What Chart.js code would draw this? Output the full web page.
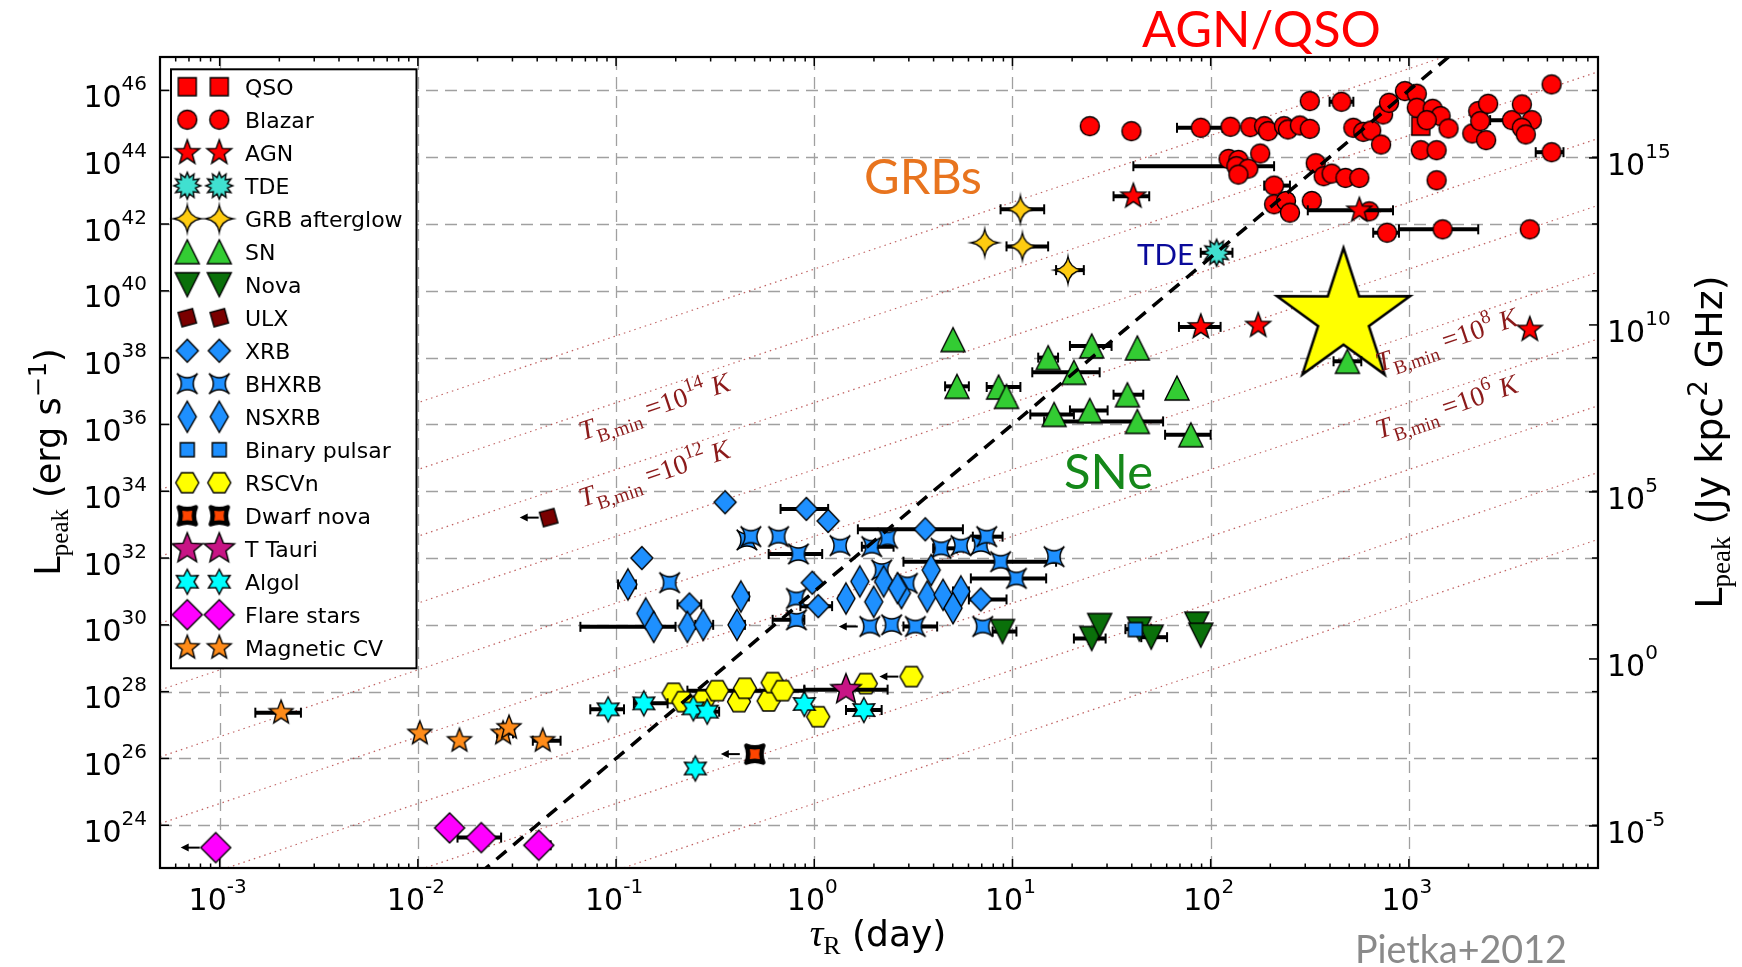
<!DOCTYPE html>
<html>
<head>
<meta charset="utf-8">
<title>Peak luminosity vs rise time</title>
<script src="https://cdn.jsdelivr.net/npm/chart.js@4.4.1/dist/chart.umd.min.js"></script>
<style>
  html, body { margin: 0; padding: 0; background: #fff; }
  canvas { display: block; }
</style>
</head>
<body>
<canvas id="lumChart" width="1742" height="967"></canvas>
<script>
// values are log10: tau_R in days, L_peak in erg/s
// error bars: [point index, log tau low, log tau high]; limits: points with an upper limit on tau

const qsoLogTau = [3.06];
const qsoLogL = [44.93];

const blazarLogTau = [1.39, 1.60, 1.95, 2.10, 2.20, 2.27, 2.29, 2.37, 2.39, 2.45, 2.50, 2.50, 2.66, 2.72, 2.77, 2.81,
  2.86, 2.87, 2.90, 2.98, 3.04, 3.04, 3.12, 3.16, 3.09, 3.20, 3.06, 3.14, 3.14, 3.32, 3.35, 3.36, 3.39, 3.40, 3.52,
  3.57, 3.62, 3.57, 3.59, 3.72, 3.72, 3.61, 2.09, 2.14, 2.13, 2.19, 2.14, 2.25, 2.32, 2.32, 2.38, 2.40, 2.51, 2.53,
  2.57, 2.61, 2.68, 2.75, 2.80, 2.89, 3.17];
const blazarLogL = [44.93, 44.78, 44.88, 44.91, 44.90, 44.93, 44.78, 44.93, 44.83, 44.95, 44.85, 45.68, 45.66, 44.88,
  44.76, 44.80, 44.38, 45.28, 45.63, 45.98, 45.90, 45.48, 45.45, 45.23, 45.11, 44.86, 44.21, 44.21, 43.31, 44.71,
  45.38, 45.08, 44.51, 45.60, 45.11, 45.58, 45.11, 44.88, 44.68, 46.18, 44.15, 41.84, 43.95, 43.92, 43.73, 43.66,
  43.48, 44.11, 43.15, 42.59, 42.69, 42.34, 42.69, 43.82, 43.43, 43.51, 43.38, 43.38, 42.38, 41.74, 41.84];
const blazarErr = [[2, 1.83, 2.06], [12, 2.60, 2.72], [34, 3.41, 3.64], [40, 3.64, 3.78], [44, 1.61, 2.32],
  [48, 2.27, 2.40], [53, 2.49, 2.56], [59, 2.82, 2.95], [60, 2.95, 3.35]];

const agnLogTau = [1.61, 2.75, 1.95, 2.24, 3.61];
const agnLogL = [42.83, 42.41, 38.92, 38.96, 38.84];
const agnErr = [[0, 1.51, 1.69], [1, 2.49, 2.92], [2, 1.84, 2.05]];

const tdeLogTau = [2.03];
const tdeLogL = [41.14];
const tdeErr = [[0, 1.95, 2.11]];

const grbLogTau = [1.04, 0.86, 1.05, 1.28];
const grbLogL = [42.44, 41.44, 41.33, 40.62];
const grbErr = [[0, 0.94, 1.16], [2, 0.97, 1.18], [3, 1.22, 1.36]];

const snLogTau = [0.70, 0.72, 0.93, 0.97, 1.18, 1.21, 1.31, 1.40, 1.39, 1.58, 1.63, 1.63, 1.83, 1.90, 2.69];
const snLogL = [38.54, 37.14, 37.12, 36.84, 38.00, 36.30, 37.56, 38.35, 36.42, 36.89, 36.09, 38.29, 37.09, 35.69, 37.89];
const snErr = [[1, 0.66, 0.78], [2, 0.87, 1.04], [4, 1.13, 1.23], [5, 1.09, 1.31], [6, 1.10, 1.44], [7, 1.29, 1.50],
  [8, 1.29, 1.48], [9, 1.51, 1.66], [10, 1.16, 1.76], [13, 1.77, 2.00], [14, 2.62, 2.76]];

const novaLogTau = [0.95, 1.40, 1.44, 1.64, 1.70, 1.93, 1.95];
const novaLogL = [29.80, 29.59, 29.98, 29.87, 29.63, 30.02, 29.69];
const novaErr = [[0, 0.90, 1.02], [1, 1.31, 1.47], [3, 1.57, 1.70], [4, 1.65, 1.78]];

const ulxLogTau = [-1.34];
const ulxLogL = [33.21];
const ulxLimits = [0];

const xrbLogTau = [-0.45, -0.04, 0.07, 0.56, -0.87, -0.63, -0.01, 0.02, 0.84];
const xrbLogL = [33.67, 33.47, 33.11, 32.86, 32.00, 30.61, 31.26, 30.56, 30.76];
const xrbErr = [[1, -0.17, 0.07], [3, 0.22, 0.75], [5, -0.69, -0.57], [7, -0.07, 0.09], [8, 0.78, 0.97]];

const bhxrbLogTau = [-0.34, -0.32, -0.18, -0.08, 0.13, 0.29, 0.37, 0.64, 0.74, 0.84, 0.87, 0.94, 1.21, 1.02, -0.73,
  -0.09, -0.09, 0.28, 0.39, 0.51, 0.85, 0.34, 0.47];
const bhxrbLogL = [32.54, 32.64, 32.64, 32.12, 32.37, 32.34, 32.59, 32.29, 32.37, 32.39, 32.64, 31.89, 32.04, 31.39,
  31.26, 30.79, 30.15, 29.95, 30.00, 29.95, 29.95, 31.64, 31.24];
const bhxrbErr = [[3, -0.23, 0.04], [5, 0.24, 0.40], [7, 0.60, 0.72], [10, 0.80, 0.95], [11, 0.45, 1.22],
  [13, 0.79, 1.17], [16, -0.21, -0.05], [19, 0.45, 0.62]];
const bhxrbLimits = [17];

const nsxrbLogTau = [-0.94, -0.85, -0.81, -0.64, -0.56, -0.37, -0.39, 0.23, 0.35, 0.44, 0.57, 0.59, 0.65, 0.74, 0.70,
  0.16, 0.30, 0.42];
const nsxrbLogL = [31.21, 30.34, 29.94, 29.94, 30.00, 30.85, 30.00, 31.30, 31.30, 30.95, 30.85, 31.64, 30.90, 31.00,
  30.50, 30.79, 30.69, 31.10];
const nsxrbErr = [[0, -0.99, -0.90], [2, -1.18, -0.70], [4, -0.60, -0.51], [5, -0.40, -0.33], [6, -0.42, -0.35],
  [13, 0.70, 0.78]];

const pulsarLogTau = [1.62];
const pulsarLogL = [29.86];

const rscvnLogTau = [-0.71, -0.66, -0.56, -0.49, -0.38, -0.35, -0.23, -0.21, -0.16, 0.02, 0.26, 0.49];
const rscvnLogL = [27.95, 27.70, 27.73, 28.03, 27.70, 28.10, 27.72, 28.27, 28.03, 27.25, 28.24, 28.45];
const rscvnErr = [[3, -0.64, -0.05]];
const rscvnLimits = [11];

const dwarfNovaLogTau = [-0.30];
const dwarfNovaLogL = [26.13];
const dwarfNovaLimits = [0];

const tTauriLogTau = [0.16];
const tTauriLogL = [28.06];
const tTauriErr = [[0, -0.05, 0.37]];

const algolLogTau = [-1.04, -0.86, -0.61, -0.54, -0.05, 0.25, -0.60];
const algolLogL = [27.47, 27.65, 27.50, 27.40, 27.63, 27.45, 25.70];
const algolErr = [[0, -1.13, -0.96], [1, -0.91, -0.74], [3, -0.60, -0.48], [5, 0.16, 0.34]];

const flareLogTau = [-3.02, -1.84, -1.68, -1.39];
const flareLogL = [23.33, 23.92, 23.63, 23.40];
const flareErr = [[2, -1.80, -1.58], [3, -1.43, -1.33]];
const flareLimits = [0];

const mcvLogTau = [-2.69, -1.99, -1.79, -1.57, -1.54, -1.37];
const mcvLogL = [27.37, 26.75, 26.53, 26.75, 26.92, 26.53];
const mcvErr = [[0, -2.82, -2.59], [3, -1.60, -1.52], [5, -1.42, -1.28]];

// the source marked by the large star
const highlightLogTau = [2.67];
const highlightLogL = [39.19];

// axes
const X_MIN = 5e-4, X_MAX = 9e3;
const Y_MIN = 10 ** 22.72, Y_MAX = 1e47;
const JY_KPC2_GHZ = 9.52e28;           // erg/s in one Jy kpc^2 GHz
const xTickExps = [-3, -2, -1, 0, 1, 2, 3];
const yTickExps = [24, 26, 28, 30, 32, 34, 36, 38, 40, 42, 44, 46];
const y2TickExps = [-5, 0, 5, 10, 15];

// minimum brightness temperature: log L = log T_B + 2 log tau + 24.65
const tbExps = [0, 2, 4, 6, 8, 10, 12, 14, 16];
const tbOffset = 24.65;
// dashed relation: log L = 5 log tau + 31
const relSlope = 5, relIntercept = 31.0;

// ---- markers ----
function marker(path, fill, opts = {}) {
  const lw = opts.lw || 1.4, ext = opts.ext || 14;
  const size = 2 * Math.ceil(ext + lw + 2);
  const c = document.createElement('canvas');
  c.width = size; c.height = size;
  const g = c.getContext('2d');
  g.translate(size / 2, size / 2);
  if (opts.rot) g.rotate(opts.rot);
  g.beginPath(); path(g); g.closePath();
  g.fillStyle = fill; g.fill();
  g.lineWidth = lw; g.strokeStyle = '#000'; g.lineJoin = opts.join || 'miter'; g.stroke();
  return c;
}
const star = (R, r, n) => g => {
  for (let k = 0; k < 2 * n; k++) {
    const d = k % 2 ? r : R, a = -Math.PI / 2 + k * Math.PI / n;
    g.lineTo(d * Math.cos(a), d * Math.sin(a));
  }
};
const poly = (R, n, a0) => g => {
  for (let k = 0; k < n; k++) {
    const a = a0 + k * 2 * Math.PI / n;
    g.lineTo(R * Math.cos(a), R * Math.sin(a));
  }
};
// four tips joined by inward-bowed curves
const pinch = (R, k, a0) => g => {
  for (let i = 0; i < 4; i++) {
    const a = a0 + i * Math.PI / 2, b = a + Math.PI / 2, m = a + Math.PI / 4;
    if (i === 0) g.moveTo(R * Math.cos(a), R * Math.sin(a));
    g.quadraticCurveTo(k * R * Math.cos(m), k * R * Math.sin(m), R * Math.cos(b), R * Math.sin(b));
  }
};
const diamond = (w, h) => g => { g.moveTo(0, -h); g.lineTo(w, 0); g.lineTo(0, h); g.lineTo(-w, 0); };
const tri = (s, dir) => g => { g.moveTo(0, -dir * s); g.lineTo(s, dir * s); g.lineTo(-s, dir * s); };
const box = s => g => g.rect(-s, -s, 2 * s, 2 * s);
const disc = r => g => g.arc(0, 0, r, 0, 2 * Math.PI);

const M = {
  qso: marker(box(9), '#ff0000', { ext: 10 }),
  blazar: marker(disc(9.5), '#ff0000', { ext: 10 }),
  agn: marker(star(13, 5.4, 5), '#ff0000'),
  tde: marker(star(13.5, 8.5, 12), '#40e0d0'),
  grb: marker(pinch(13.5, 0.2, -Math.PI / 2), '#ffcc11'),
  sn: marker(tri(12, 1), '#33cc33'),
  nova: marker(tri(12, -1), '#0a700a'),
  ulx: marker(box(7.5), '#7a0000', { rot: -0.27 }),
  xrb: marker(diamond(11, 11.5), '#1e90ff'),
  bhxrb: marker(pinch(14.5, 0.12, -Math.PI / 4), '#1e90ff'),
  nsxrb: marker(diamond(9, 15.5), '#1e90ff', { ext: 16 }),
  pulsar: marker(box(7), '#1e90ff'),
  rscvn: marker(poly(11.5, 6, 0), '#ffff00'),
  dwarf: marker(pinch(12, 0.4, -Math.PI / 4), '#ff4500', { lw: 4.5, join: 'round' }),
  ttauri: marker(star(16, 7, 5), '#c71585', { ext: 17 }),
  algol: marker(star(12.5, 6.8, 6), '#00ffff'),
  flare: marker(diamond(15, 15), '#ff00ff', { ext: 16 }),
  mcv: marker(star(12.5, 5.4, 5), '#ff8c1a'),
  highlight: marker(star(70, 26.7, 5), '#ffff00', { lw: 2.5, ext: 71 })
};

const categories = [
  { label: 'QSO', tau: qsoLogTau, lum: qsoLogL, mk: M.qso },
  { label: 'Blazar', tau: blazarLogTau, lum: blazarLogL, err: blazarErr, mk: M.blazar },
  { label: 'AGN', tau: agnLogTau, lum: agnLogL, err: agnErr, mk: M.agn },
  { label: 'TDE', tau: tdeLogTau, lum: tdeLogL, err: tdeErr, mk: M.tde },
  { label: 'GRB afterglow', tau: grbLogTau, lum: grbLogL, err: grbErr, mk: M.grb },
  { label: 'SN', tau: snLogTau, lum: snLogL, err: snErr, mk: M.sn },
  { label: 'Nova', tau: novaLogTau, lum: novaLogL, err: novaErr, mk: M.nova },
  { label: 'ULX', tau: ulxLogTau, lum: ulxLogL, lim: ulxLimits, half: 9, mk: M.ulx },
  { label: 'XRB', tau: xrbLogTau, lum: xrbLogL, err: xrbErr, mk: M.xrb },
  { label: 'BHXRB', tau: bhxrbLogTau, lum: bhxrbLogL, err: bhxrbErr, lim: bhxrbLimits, half: 11, mk: M.bhxrb },
  { label: 'NSXRB', tau: nsxrbLogTau, lum: nsxrbLogL, err: nsxrbErr, mk: M.nsxrb },
  { label: 'Binary pulsar', tau: pulsarLogTau, lum: pulsarLogL, mk: M.pulsar },
  { label: 'RSCVn', tau: rscvnLogTau, lum: rscvnLogL, err: rscvnErr, lim: rscvnLimits, half: 12, mk: M.rscvn },
  { label: 'Dwarf nova', tau: dwarfNovaLogTau, lum: dwarfNovaLogL, lim: dwarfNovaLimits, half: 14, mk: M.dwarf },
  { label: 'T Tauri', tau: tTauriLogTau, lum: tTauriLogL, err: tTauriErr, mk: M.ttauri },
  { label: 'Algol', tau: algolLogTau, lum: algolLogL, err: algolErr, mk: M.algol },
  { label: 'Flare stars', tau: flareLogTau, lum: flareLogL, err: flareErr, lim: flareLimits, half: 15, mk: M.flare },
  { label: 'Magnetic CV', tau: mcvLogTau, lum: mcvLogL, err: mcvErr, mk: M.mcv }
];

const toPoints = (tau, lum) => tau.map((t, i) => ({ x: 10 ** t, y: 10 ** lum[i] }));

// ---- datasets ----
const datasets = [];
tbExps.forEach(e => datasets.push({
  type: 'line',
  data: [X_MIN, X_MAX].map(x => ({ x, y: 10 ** (e + tbOffset) * x * x })),
  borderColor: 'rgba(178, 60, 60, 0.8)', borderWidth: 1.2, borderDash: [1.5, 4],
  pointRadius: 0, showLine: true, order: 200
}));
datasets.push({
  data: toPoints(highlightLogTau, highlightLogL),
  pointStyle: M.highlight, pointRadius: 6, showLine: false, order: 150
});
categories.forEach((c, i) => datasets.push({
  label: c.label, data: toPoints(c.tau, c.lum),
  pointStyle: c.mk, pointRadius: 6, showLine: false, order: 100 - i,
  errBars: c.err || [], limits: c.lim || [], half: c.half || 10
}));
datasets.push({
  type: 'line',
  data: [X_MIN, X_MAX].map(x => ({ x, y: 10 ** (relIntercept + relSlope * Math.log10(x)) })),
  borderColor: '#000', borderWidth: 3.5, borderDash: [13, 9],
  pointRadius: 0, showLine: true, order: 1
});

// ---- drawing helpers ----
function drawRich(ctx, parts, x, y, align) {
  let total = 0;
  const widths = parts.map(([t, f]) => { ctx.font = f; const w = ctx.measureText(t).width; total += w; return w; });
  let cx = align === 'right' ? x - total : align === 'center' ? x - total / 2 : x;
  ctx.textAlign = 'left';
  parts.forEach(([t, f, dy = 0], i) => { ctx.font = f; ctx.fillText(t, cx, y + dy); cx += widths[i]; });
  return total;
}
function seg(ctx, x1, y1, x2, y2) { ctx.beginPath(); ctx.moveTo(x1, y1); ctx.lineTo(x2, y2); ctx.stroke(); }
function fitText(ctx, text, family, color, left, baseline, width) {
  ctx.font = `40px ${family}`;
  const size = 40 * width / ctx.measureText(text).width;
  ctx.font = `${size}px ${family}`;
  ctx.fillStyle = color; ctx.textAlign = 'left';
  ctx.fillText(text, left, baseline);
}

const TICK_BIG = '30px "DejaVu Sans"', TICK_SUP = '20px "DejaVu Sans"';
const powParts = e => [['10', TICK_BIG], [String(e), TICK_SUP, -17]];

function tbParts(e, F) {
  const serif = '"Liberation Serif", "DejaVu Serif", serif';
  return [['T', `italic ${F}px ${serif}`], ['B,min', `${0.7 * F}px ${serif}`, 0.28 * F],
    [' =10', `${F}px ${serif}`], [String(e), `${0.7 * F}px ${serif}`, -0.45 * F], [' K', `italic ${F}px ${serif}`]];
}

const decor = {
  id: 'decor',
  beforeDraw(chart) {
    const { ctx, width, height } = chart;
    ctx.save(); ctx.fillStyle = '#fff'; ctx.fillRect(0, 0, width, height); ctx.restore();
  },
  beforeDatasetsDraw(chart) {
    const { ctx, chartArea: a, scales: { x, y } } = chart;
    ctx.save();
    ctx.strokeStyle = '#a0a0a0'; ctx.lineWidth = 1.3; ctx.setLineDash([12, 7]);
    xTickExps.forEach(e => { const px = Math.round(x.getPixelForValue(10 ** e)) + 0.5; seg(ctx, px, a.bottom, px, a.top); });
    yTickExps.forEach(e => { const py = Math.round(y.getPixelForValue(10 ** e)) + 0.5; seg(ctx, a.left, py, a.right, py); });
    ctx.restore();
  },
  beforeDatasetDraw(chart, args) {
    const ds = chart.data.datasets[args.index];
    if (!ds.errBars) return;
    const { ctx, chartArea: a, scales: { x } } = chart;
    const pts = args.meta.data;
    ctx.save();
    ctx.beginPath(); ctx.rect(a.left, a.top, a.right - a.left, a.bottom - a.top); ctx.clip();
    ctx.strokeStyle = '#000'; ctx.fillStyle = '#000';
    ds.errBars.forEach(([i, lo, hi]) => {
      const py = pts[i].y, x1 = x.getPixelForValue(10 ** lo), x2 = x.getPixelForValue(10 ** hi);
      ctx.lineWidth = 4; seg(ctx, x1, py, x2, py);
      ctx.lineWidth = 2; seg(ctx, x1, py - 5, x1, py + 5); seg(ctx, x2, py - 5, x2, py + 5);
    });
    ds.limits.forEach(i => {
      const p = pts[i], x0 = p.x - ds.half - 1, tip = x0 - 19;
      ctx.lineWidth = 2; seg(ctx, x0, p.y, tip + 6, p.y);
      ctx.beginPath(); ctx.moveTo(tip, p.y); ctx.lineTo(tip + 8, p.y - 4); ctx.lineTo(tip + 8, p.y + 4);
      ctx.closePath(); ctx.fill();
    });
    ctx.restore();
  },
  afterDatasetsDraw(chart) {
    const { ctx, chartArea: a, scales: { x, y, y2 } } = chart;
    ctx.save();

    // brightness temperature labels, laid along their lines
    const F0 = 30;
    let w0 = 0;
    tbParts(14, F0).forEach(([t, f]) => { ctx.font = f; w0 += ctx.measureText(t).width; });
    const F = F0 * 158 / w0;
    ctx.fillStyle = '#8b1a1a';
    [[14, -1.21], [12, -1.21], [8, 2.81], [6, 2.81]].forEach(([e, lt]) => {
      const ll = e + tbOffset + 2 * lt;
      const px = x.getPixelForValue(10 ** lt), py = y.getPixelForValue(10 ** ll);
      const qx = x.getPixelForValue(10 ** (lt + 1)), qy = y.getPixelForValue(10 ** (ll + 2));
      ctx.save(); ctx.translate(px, py); ctx.rotate(Math.atan2(qy - py, qx - px));
      drawRich(ctx, tbParts(e, F), 0, 25, 'left');
      ctx.restore();
    });

    // frame and inward ticks
    ctx.strokeStyle = '#000'; ctx.lineWidth = 1.5;
    for (let e = -4; e <= 4; e++) for (let k = 1; k <= 9; k++) {
      const v = k * 10 ** e;
      if (v < X_MIN || v > X_MAX) continue;
      const px = x.getPixelForValue(v), len = k === 1 ? 9 : 4.5;
      seg(ctx, px, a.bottom, px, a.bottom - len); seg(ctx, px, a.top, px, a.top + len);
    }
    yTickExps.forEach(e => { const py = y.getPixelForValue(10 ** e); seg(ctx, a.left, py, a.left + 9, py); seg(ctx, a.right, py, a.right - 6, py); });
    y2TickExps.forEach(e => { const py = y2.getPixelForValue(10 ** e); seg(ctx, a.right, py, a.right - 9, py); });
    ctx.lineWidth = 2.2; ctx.strokeRect(a.left, a.top, a.right - a.left, a.bottom - a.top);

    // tick labels
    ctx.fillStyle = '#000'; ctx.textBaseline = 'alphabetic';
    yTickExps.forEach(e => drawRich(ctx, powParts(e), 147, y.getPixelForValue(10 ** e) + 16.5, 'right'));
    xTickExps.forEach(e => drawRich(ctx, powParts(e), x.getPixelForValue(10 ** e) - 2, 910, 'center'));
    y2TickExps.forEach(e => drawRich(ctx, powParts(e), 1607, y2.getPixelForValue(10 ** e) + 16.7, 'left'));

    // axis titles
    const sans = f => `${f}px "DejaVu Sans"`, serif = f => `${f}px "Liberation Serif"`;
    ctx.save(); ctx.translate(60, 462); ctx.rotate(-Math.PI / 2);
    drawRich(ctx, [['L', sans(35)], ['peak', serif(25), 8], [' (erg s', sans(35)], ['\u22121', sans(24), -14], [')', sans(35)]], 0, 0, 'center');
    ctx.restore();
    ctx.save(); ctx.translate(1722, 442); ctx.rotate(-Math.PI / 2);
    drawRich(ctx, [['L', sans(38)], ['peak', serif(27), 8], [' (Jy kpc', sans(38)], ['2', sans(26), -15], [' GHz)', sans(38)]], 0, 0, 'center');
    ctx.restore();
    drawRich(ctx, [['\u03c4', `italic ${serif(38)}`], ['R', serif(26), 8], [' (day)', sans(36)]], 878, 946, 'center');

    // legend
    const L = 171, T = 69.3, W = 245.5, H = 599;
    ctx.fillStyle = '#fff'; ctx.fillRect(L, T, W, H);
    ctx.lineWidth = 2; ctx.strokeStyle = '#000'; ctx.strokeRect(L, T, W, H);
    ctx.font = '22px "DejaVu Sans"'; ctx.fillStyle = '#000'; ctx.textAlign = 'left';
    categories.forEach((c, i) => {
      const cy = 86.7 + 33 * i;
      [187.3, 219.3].forEach(cx => ctx.drawImage(c.mk, cx - c.mk.width / 2, cy - c.mk.height / 2));
      ctx.fillText(c.label, 245, cy + 8);
    });

    // region annotations
    const gill = '"Lato", "Open Sans", sans-serif';
    fitText(ctx, 'AGN/QSO', gill, '#ff0000', 1142, 46.7, 239);
    fitText(ctx, 'GRBs', gill, '#e8741e', 864, 194, 118);
    fitText(ctx, 'SNe', gill, '#15881a', 1064, 489, 89);
    fitText(ctx, 'TDE', gill, '#0a0a9a', 1137, 265, 57);
    fitText(ctx, 'Pietka+2012', gill, '#8a8a8a', 1355, 963, 212);
    ctx.restore();
  }
};

const logAxis = (min, max, extra = {}) => Object.assign({ type: 'logarithmic', display: false, min, max }, extra);

new Chart(document.getElementById('lumChart'), {
  type: 'scatter',
  data: { datasets },
  options: {
    responsive: false,
    animation: false,
    devicePixelRatio: 1,
    events: [],
    layout: { padding: { left: 160, top: 57, right: 144, bottom: 99 } },
    plugins: { legend: { display: false }, tooltip: { enabled: false } },
    scales: {
      x: logAxis(X_MIN, X_MAX),
      y: logAxis(Y_MIN, Y_MAX),
      y2: logAxis(Y_MIN / JY_KPC2_GHZ, Y_MAX / JY_KPC2_GHZ, { position: 'right' })
    }
  },
  plugins: [decor]
});
</script>
</body>
</html>
